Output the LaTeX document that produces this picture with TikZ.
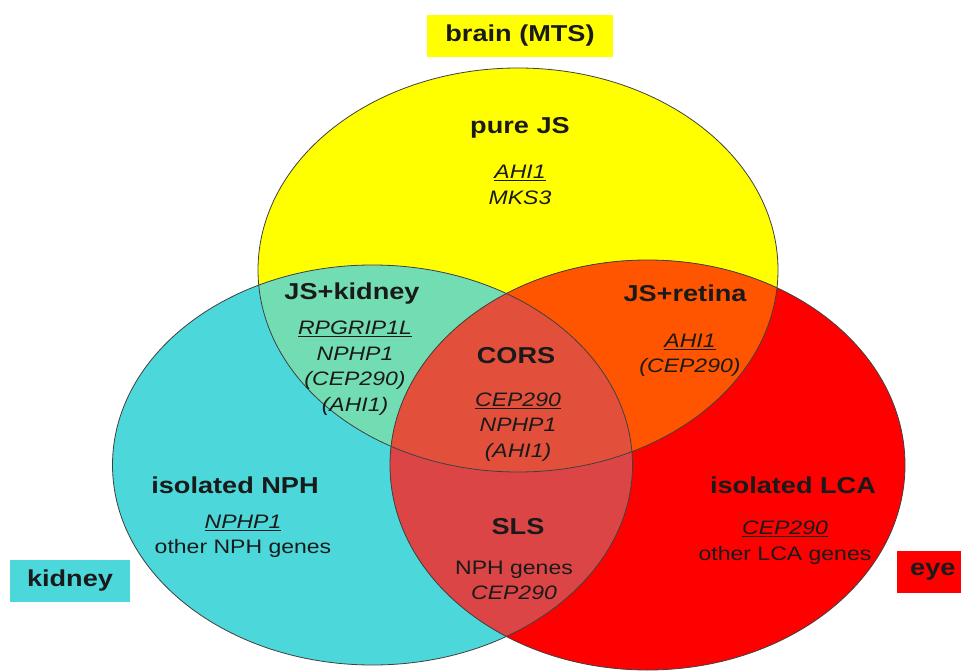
\documentclass[tikz,border=0pt]{standalone}
\usepackage{fontspec}
\usepackage{graphicx}
\setmainfont{Liberation Sans}
\newcommand{\wide}[1]{\scalebox{1.18}[1]{#1}}
\newcommand{\ul}[1]{\underline{#1}}
\definecolor{cYel}{HTML}{FFFF00}
\definecolor{cCya}{HTML}{4CD8DA}
\definecolor{cRed}{HTML}{FF0000}
\definecolor{cYC}{HTML}{72DDB3}
\definecolor{cYR}{HTML}{FF5500}
\definecolor{cCR}{HTML}{DB4545}
\definecolor{cYCR}{HTML}{E2503C}
\definecolor{txt}{HTML}{1A1A1A}
\tikzset{
  outline/.style={draw=black!75, line width=0.8pt},
  title/.style={text=txt, font=\bfseries\fontsize{23}{27}\selectfont, inner sep=0pt},
  genes/.style={text=txt, align=center, font=\fontsize{19.5}{25.5}\selectfont, inner sep=0pt},
  tagbox/.style={text=txt, font=\bfseries\fontsize{23}{27}\selectfont, inner sep=0pt, minimum height=42pt}
}
\begin{document}
\begin{tikzpicture}[x=1pt,y=-1pt]
\useasboundingbox (0,0) rectangle (961,671);
\fill[white] (0,0) rectangle (961,671);
% base fills
\fill[cYel] (518,270) ellipse [x radius=260, y radius=202];
\fill[cCya] (372.5,465) ellipse [x radius=260, y radius=200];
\fill[cRed] (647.5,465) ellipse [x radius=257.5, y radius=205];
% pairwise intersections
\begin{scope}
  \clip (518,270) ellipse [x radius=260, y radius=202];
  \fill[cYC] (372.5,465) ellipse [x radius=260, y radius=200];
  \fill[cYR] (647.5,465) ellipse [x radius=257.5, y radius=205];
\end{scope}
\begin{scope}
  \clip (372.5,465) ellipse [x radius=260, y radius=200];
  \fill[cCR] (647.5,465) ellipse [x radius=257.5, y radius=205];
  \clip (647.5,465) ellipse [x radius=257.5, y radius=205];
  \fill[cYCR] (518,270) ellipse [x radius=260, y radius=202];
\end{scope}
% outlines
\draw[outline] (518,270) ellipse [x radius=260, y radius=202];
\draw[outline] (372.5,465) ellipse [x radius=260, y radius=200];
\draw[outline] (647.5,465) ellipse [x radius=257.5, y radius=205];
% tag boxes
\node[tagbox, fill=cYel, minimum width=186pt] (brain) at (520,36) {\wide{brain (MTS)}};
\node[tagbox, fill=cCya, minimum width=120pt] (kidney) at (70,581) {\wide{kidney}};
\node[tagbox, fill=cRed, minimum width=80pt, anchor=west, text width=60pt, inner xsep=13pt] (eye) at (897,572) {\wide{eye}};
% region labels
\node[title] (pure) at (520,128) {\wide{pure JS}};
\node[genes] (pureg) at (520,185) {\wide{\itshape\ul{AHI1}}\\ \wide{\itshape MKS3}};
\node[title] (jsk) at (352,294) {\wide{JS+kidney}};
\node[genes] (jskg) at (355,368) {\wide{\itshape\ul{RPGRIP1L}}\\ \wide{\itshape NPHP1}\\ \wide{\itshape (CEP290)}\\ \wide{\itshape (AHI1)}};
\node[title] (jsr) at (685,293) {\wide{JS+retina}};
\node[genes] (jsrg) at (690,355.5) {\wide{\itshape\ul{AHI1}}\\ \wide{\itshape (CEP290)}};
\node[title] (cors) at (516,356) {\wide{CORS}};
\node[genes] (corsg) at (518,427) {\wide{\itshape\ul{CEP290}}\\ \wide{\itshape NPHP1}\\ \wide{\itshape (AHI1)}};
\node[title] (nph) at (235,485) {\wide{isolated NPH}};
\node[genes] (nphg) at (243,536.5) {\wide{\itshape\ul{NPHP1}}\\ \wide{other NPH genes}};
\node[title] (sls) at (518,527) {\wide{SLS}};
\node[genes] (slsg) at (514,580.5) {\wide{NPH genes}\\ \wide{\itshape CEP290}};
\node[title] (lca) at (793,485) {\wide{isolated LCA}};
\node[genes] (lcag) at (785,542.5) {\wide{\itshape\ul{CEP290}}\\ \wide{other LCA genes}};
\end{tikzpicture}
\end{document}
